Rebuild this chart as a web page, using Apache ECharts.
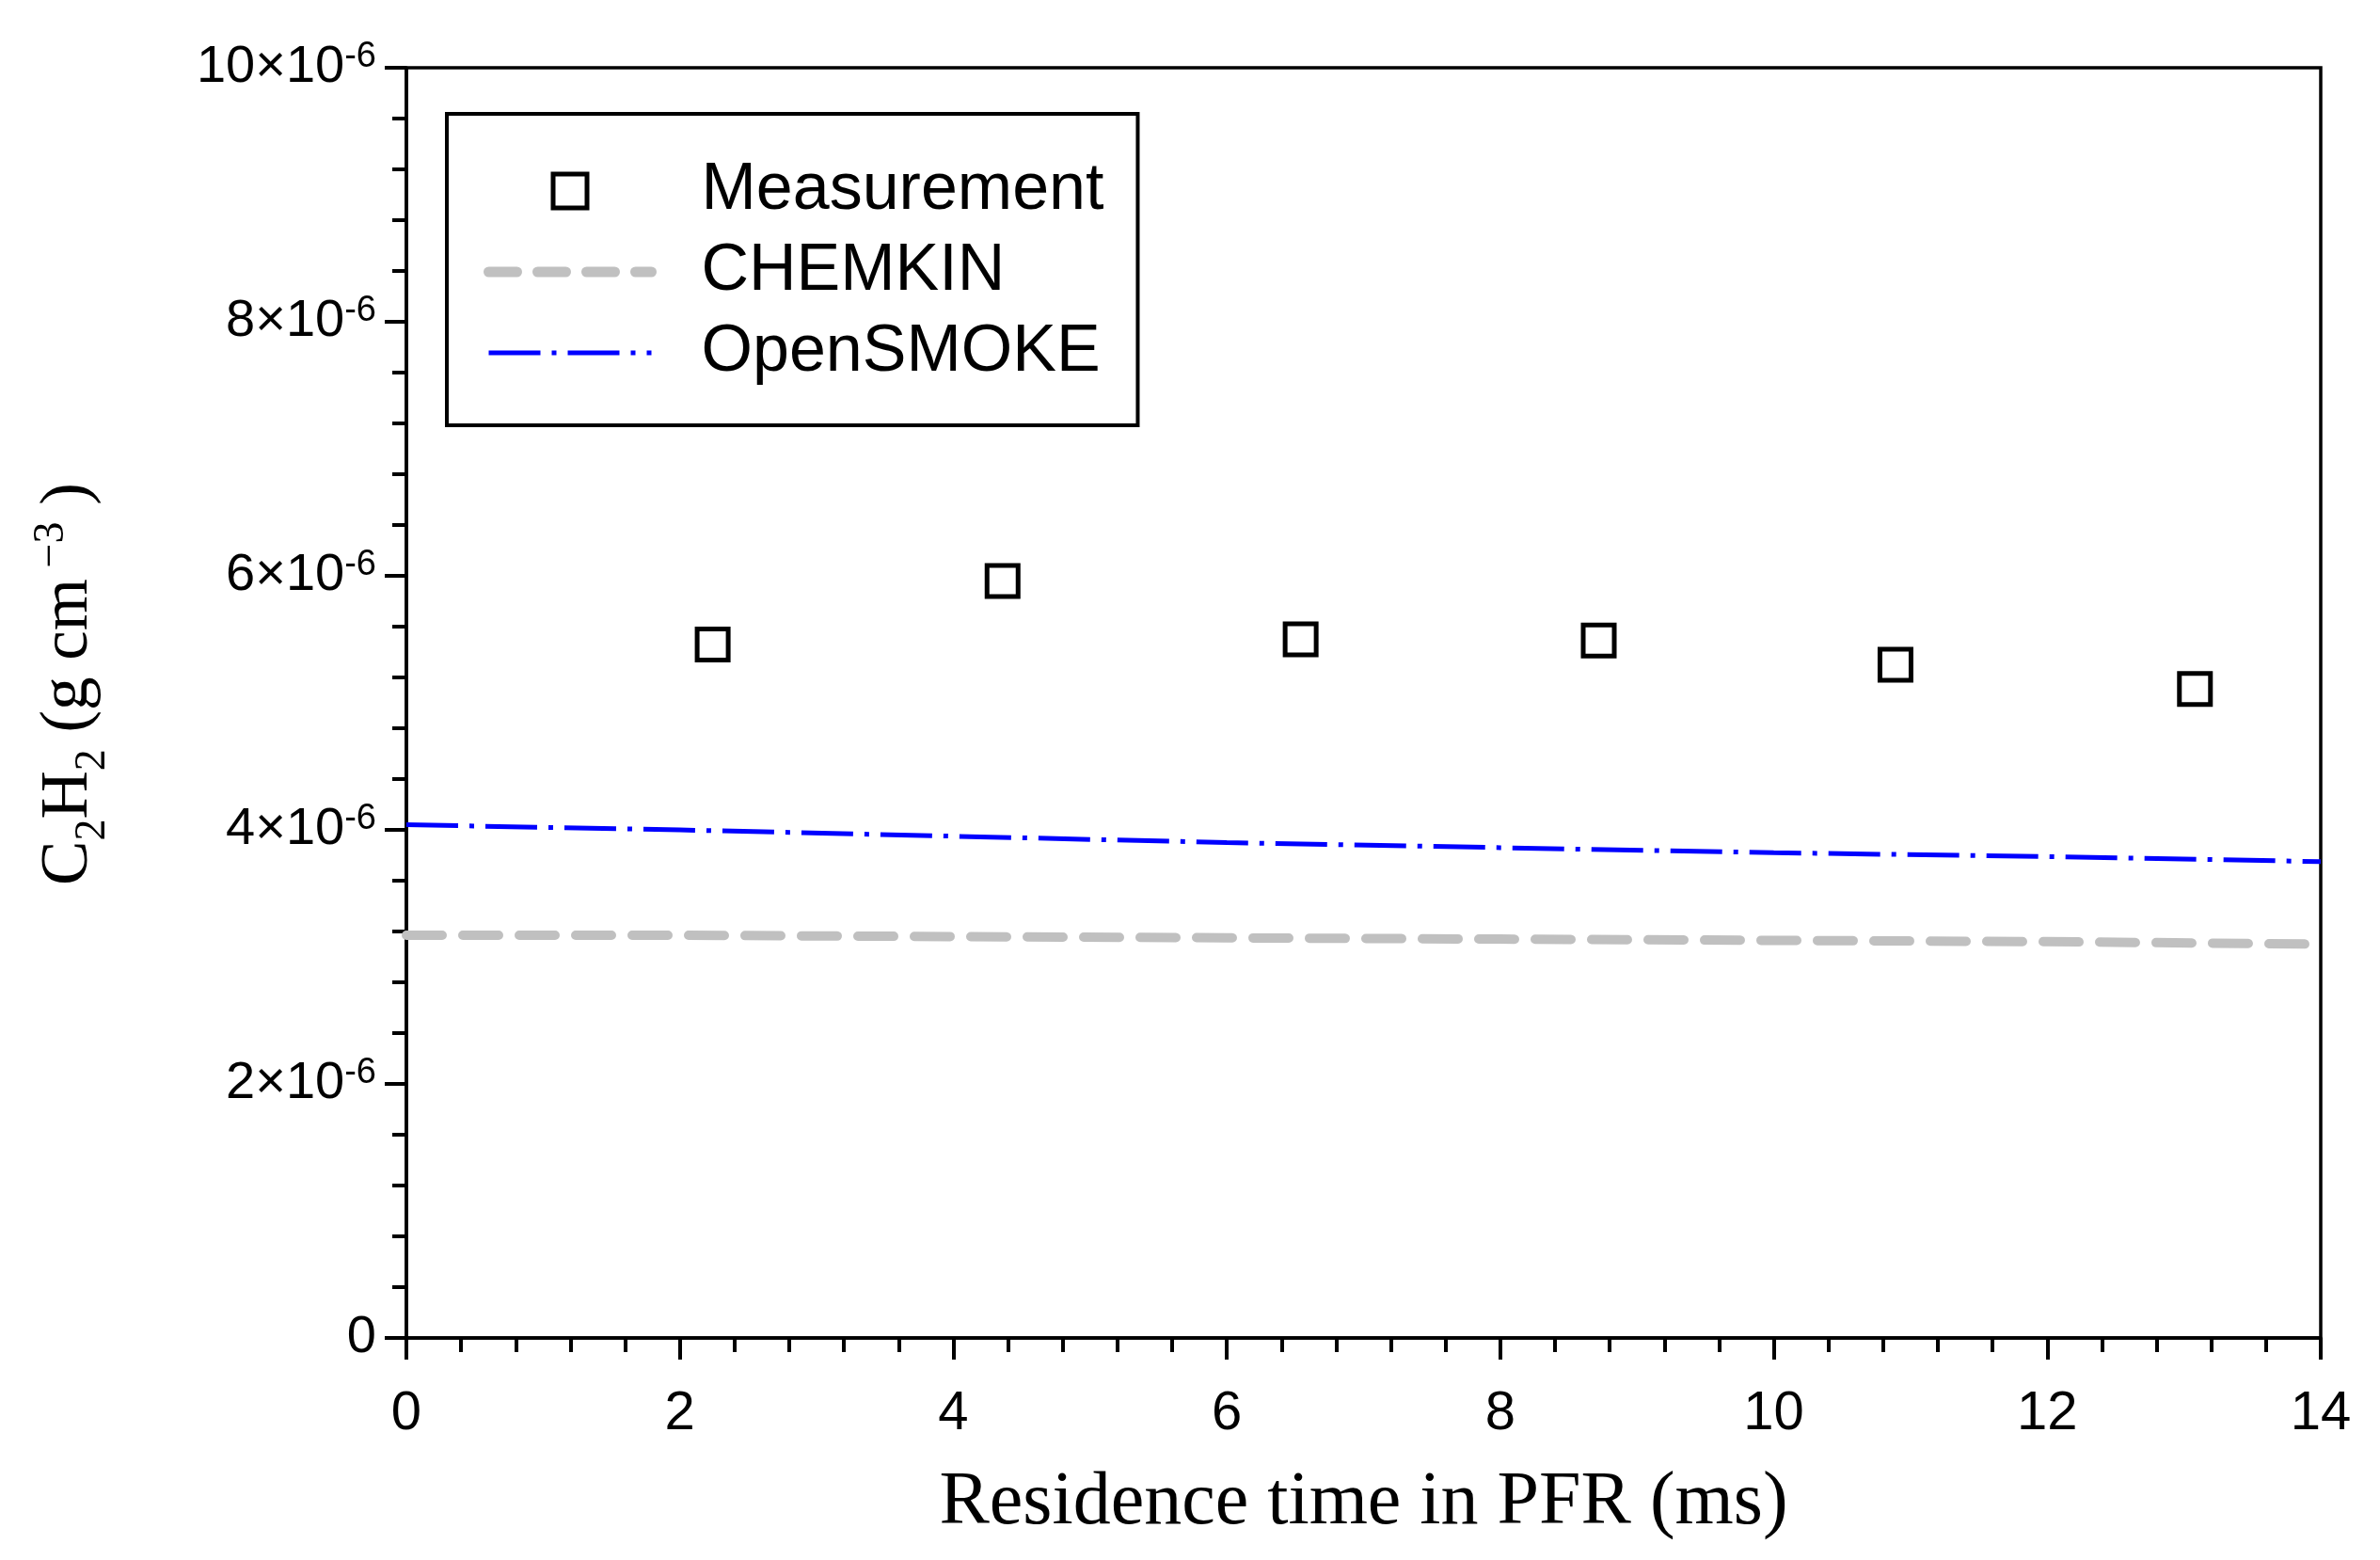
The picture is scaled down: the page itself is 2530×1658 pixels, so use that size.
<!DOCTYPE html>
<html>
<head>
<meta charset="utf-8">
<script src="https://cdn.jsdelivr.net/npm/echarts@6/dist/echarts.min.js"></script>
<style>
html,body{margin:0;padding:0;background:#fff;}
#chart{width:2530px;height:1658px;}
</style>
</head>
<body>
<div id="chart"></div>
<script>
// Data
const measTime = [2.24, 4.36, 6.54, 8.72, 10.89, 13.08];          // ms
const measValue = [5.46e-6, 5.96e-6, 5.50e-6, 5.49e-6, 5.30e-6, 5.11e-6]; // g cm^-3
const modelTime = [0, 2, 4, 6, 8, 10, 12, 14];
const chemkinValue = [3.17e-6, 3.17e-6, 3.16e-6, 3.15e-6, 3.14e-6, 3.13e-6, 3.12e-6, 3.10e-6];
const openSmokeValue = [4.04e-6, 4.00e-6, 3.95e-6, 3.90e-6, 3.86e-6, 3.82e-6, 3.79e-6, 3.75e-6];
const seriesNames = ['Measurement', 'CHEMKIN', 'OpenSMOKE'];

const pair = (xs, ys) => xs.map((x, i) => [x, ys[i]]);

const chart = echarts.init(document.getElementById('chart'), null, {renderer: 'canvas'});
const sans = "'Liberation Sans', Arial, sans-serif";
const serif = "'Liberation Serif', 'Times New Roman', serif";

const chemkinDash = [38, 22];
const openDash = [55, 12, 5, 12];
const hidden = {color: 'rgba(0,0,0,0)', borderColor: 'rgba(0,0,0,0)', borderWidth: 0};

const option = {
  backgroundColor: '#ffffff',
  animation: false,
  grid: {
    left: 432, top: 72, width: 2035, height: 1350,
    show: true, borderColor: '#000', borderWidth: 3.5, backgroundColor: 'transparent'
  },
  legend: {
    orient: 'vertical',
    left: 475, top: 121,
    padding: [47, 36, 42, 39],
    borderColor: '#000', borderWidth: 4,
    backgroundColor: '#fff',
    itemWidth: 173, itemHeight: 36,
    itemGap: 16,
    symbolKeepAspect: true,
    data: [
      {name: seriesNames[0], icon: 'path://M0,0L10,0L10,10L0,10Z',
       itemStyle: {color: '#fff', borderColor: '#000', borderWidth: 5}},
      {name: seriesNames[1], itemStyle: hidden,
       lineStyle: {color: '#c0c0c0', width: 11, type: [30, 22], cap: 'round'}},
      {name: seriesNames[2], itemStyle: hidden,
       lineStyle: {color: '#0000ff', width: 5, type: openDash}}
    ],
    textStyle: {
      fontFamily: sans, fontSize: 70, color: '#000', lineHeight: 70,
      padding: [0, 0, 0, 48]
    }
  },
  xAxis: {
    type: 'value', min: 0, max: 14, interval: 2,
    name: 'Residence time in PFR (ms)',
    nameLocation: 'middle', nameGap: 136,
    nameTextStyle: {fontFamily: serif, fontSize: 80, color: '#000'},
    axisLine: {show: true, lineStyle: {color: '#000', width: 3.5}},
    axisTick: {show: true, inside: false, length: 23, lineStyle: {color: '#000', width: 4}},
    minorTick: {show: true, splitNumber: 5, length: 15, lineStyle: {color: '#000', width: 4}},
    splitLine: {show: false},
    axisLabel: {fontFamily: sans, fontSize: 58, color: '#000', margin: 52}
  },
  yAxis: {
    type: 'value', min: 0, max: 10e-6, interval: 2e-6,
    name: '{c|C}{sub|2}{c|H}{sub|2}{c| (g cm}{sup| −3}{c| )}',
    nameLocation: 'middle', nameGap: 318, nameRotate: 90,
    nameTextStyle: {
      color: '#000',
      padding: [0, 0, 0, 40],
      rich: {
        c: {fontFamily: serif, fontSize: 71, lineHeight: 82, verticalAlign: 'middle'},
        sub: {fontFamily: serif, fontSize: 46, lineHeight: 36, verticalAlign: 'bottom', padding: [0, 0, -8, 0]},
        sup: {fontFamily: serif, fontSize: 46, lineHeight: 36, verticalAlign: 'top'}
      }
    },
    axisLine: {show: true, lineStyle: {color: '#000', width: 3.5}},
    axisTick: {show: true, inside: false, length: 23, lineStyle: {color: '#000', width: 4}},
    minorTick: {show: true, splitNumber: 5, length: 15, lineStyle: {color: '#000', width: 4}},
    splitLine: {show: false},
    axisLabel: {
      margin: 32,
      formatter: function (v) {
        const n = Math.round(v / 1e-6);
        if (n === 0) return '{m|0}';
        return '{m|' + n + '×10}{s|-6}';
      },
      rich: {
        m: {fontFamily: sans, fontSize: 56, color: '#000', lineHeight: 60, verticalAlign: 'middle'},
        s: {fontFamily: sans, fontSize: 38, color: '#000', lineHeight: 30, verticalAlign: 'top'}
      }
    }
  },
  series: [
    {
      name: 'Measurement', type: 'scatter',
      data: pair(measTime, measValue),
      symbol: 'rect', symbolSize: 33,
      itemStyle: {color: '#ffffff', borderColor: '#000', borderWidth: 5, opacity: 1},
      z: 5
    },
    {
      name: 'CHEMKIN', type: 'line',
      data: pair(modelTime, chemkinValue),
      showSymbol: false, symbol: 'none',
      itemStyle: {color: '#c0c0c0'},
      lineStyle: {color: '#c0c0c0', width: 10, type: chemkinDash, cap: 'round'},
      z: 3
    },
    {
      name: 'OpenSMOKE', type: 'line',
      data: pair(modelTime, openSmokeValue),
      showSymbol: false, symbol: 'none',
      itemStyle: {color: '#0000ff'},
      lineStyle: {color: '#0000ff', width: 5, type: openDash},
      z: 4
    }
  ]
};
chart.setOption(option);
</script>
</body>
</html>
